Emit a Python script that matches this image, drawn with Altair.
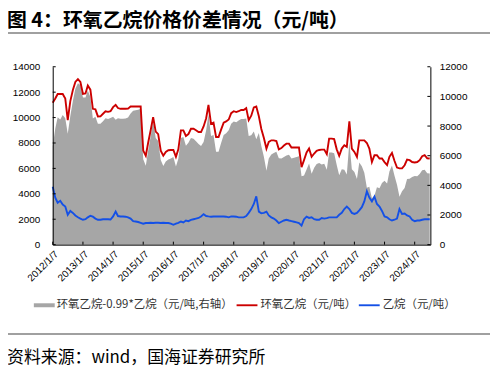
import altair as alt
import pandas as pd

# ---------------- data ----------------
title_text = "图 4：环氧乙烷价格价差情况（元/吨）"
source_text = "资料来源：wind，国海证券研究所"
legend_labels = ["环氧乙烷-0.99*乙烷（元/吨,右轴）", "环氧乙烷（元/吨）", "乙烷（元/吨）"]

tick_years = list(range(2012, 2025))
left_ticks = list(range(0, 14001, 2000))
right_ticks = list(range(0, 12001, 2000))

# monthly observations, 2012/1/7 .. 2024/7/7
dates = pd.date_range("2012-01-07", periods=151, freq=pd.DateOffset(months=1)).strftime("%Y-%m-%dT00:00:00").tolist()

eo = [
    11160, 11500, 11860, 11860, 11860, 11500, 9800, 11300, 12170, 12800, 13030, 12800,   # 2012
    11860, 11900, 12520, 12200, 10690, 10650, 10090, 10100, 10300, 10500, 10450, 10500,  # 2013
    10820, 11000, 10750, 10690, 10690, 10690, 10700, 10870, 10870, 10870, 10870, 10870,  # 2014
    7400, 7000, 8000, 9000, 10040, 8900, 8700, 7400, 7000, 7300, 7430, 7450,             # 2015
    7450, 6910, 7500, 8990, 8990, 8550, 8700, 9120, 9120, 9000, 8860, 8860,              # 2016
    9300, 9950, 11000, 9510, 9600, 8470, 8470, 9050, 9600, 9700, 9850, 10350,            # 2017
    10500, 10430, 10500, 10600, 10600, 10740, 9800, 10150, 10800, 10870, 10100, 9100,    # 2018
    8400, 7560, 8080, 8210, 8210, 8150, 7500, 7600, 7800, 7950, 7950, 7640,              # 2019
    7640, 7640, 7640, 6100, 6650, 7250, 7560, 6910, 7170, 7380, 7450, 7480,              # 2020
    7480, 7120, 8340, 8340, 8300, 7500, 7000, 7560, 7820, 7700, 9700, 7560,              # 2021
    7300, 6900, 8210, 8210, 8210, 8000, 7560, 6500, 7040, 7040, 6780, 6780,              # 2022
    6500, 6260, 6910, 7220, 6600, 6070, 6000, 6000, 6250, 6700, 6650, 6500,              # 2023
    6470, 6500, 6650, 6960, 7040, 6800, 6780,                                            # 2024
]

ethane = [
    4560, 3700, 3300, 3450, 3150, 3000, 2350, 2650, 2500, 2300, 2160, 2050,   # 2012
    1960, 2000, 2150, 2270, 2200, 2050, 1960, 1960, 2000, 2000, 2000, 1980,   # 2013
    2220, 2600, 2250, 2220, 2220, 2200, 2150, 2050, 1850, 1820, 1780, 1720,   # 2014
    1650, 1700, 1700, 1720, 1700, 1720, 1720, 1700, 1720, 1700, 1700, 1650,   # 2015
    1560, 1650, 1720, 1820, 1750, 1900, 1850, 1950, 2000, 2050, 2100, 2220,   # 2016
    2400, 2250, 2220, 2200, 2220, 2220, 2220, 2220, 2220, 2200, 2150, 2220,   # 2017
    2220, 2200, 2150, 2150, 2150, 2250, 2500, 2800, 3200, 3800, 2600, 2470,   # 2018
    2500, 2600, 2300, 2150, 2050, 1900, 1690, 1800, 1900, 1960, 1900, 1850,   # 2019
    1800, 1750, 1690, 1500, 2000, 2200, 2100, 2150, 2000, 1960, 1960, 2090,   # 2020
    2050, 2090, 2150, 2150, 2150, 2150, 2350, 2500, 2800, 3000, 2800, 2500,   # 2021
    2420, 2500, 2700, 2950, 3400, 4200, 3700, 3400, 3780, 3200, 3000, 2650,   # 2022
    2220, 2150, 2000, 1900, 1960, 2050, 2800, 2420, 2450, 2300, 2220, 1950,   # 2023
    1850, 1900, 1900, 1960, 2000, 2000, 2000,                                 # 2024
]

series_colors = ["#A6A6A6", "#CC0000", "#1450E6"]

# ---------------- layout / style ----------------
W, H = 380, 179
FONT_CJK = "Noto Sans CJK SC"
FONT_NUM = "Liberation Sans"

df = pd.DataFrame({"date": dates, "eo": eo, "eth": ethane})
df_years = pd.DataFrame({"date": [f"{y}-01-07T00:00:00" for y in tick_years]})
df_left = pd.DataFrame({"v": left_ticks})
df_right = pd.DataFrame({"v": right_ticks})

x_scale = alt.Scale(domain=[alt.DateTime(year=2012, month=1, date=7),
                            alt.DateTime(year=2024, month=7, date=15)])
left_scale = alt.Scale(domain=[0, 14000], nice=False)
right_scale = alt.Scale(domain=[0, 12000], nice=False)

x_axis = alt.Axis(values=[alt.DateTime(year=y, month=1, date=7) for y in tick_years],
                  format="%Y/%-m/%-d", labelAngle=-45, labelFont=FONT_NUM, labelFontSize=10,
                  labelColor="#000", domainColor="#000", domainWidth=1, ticks=False, tickSize=0,
                  labelPadding=4, grid=False, zindex=1, labelOverlap=False, labelBound=False)
left_axis = alt.Axis(orient="left", values=left_ticks, format="d", labelFont=FONT_NUM, labelFontSize=10,
                     labelColor="#000", domainColor="#000", domainWidth=1, ticks=False,
                     tickSize=0, labelPadding=13, grid=False, zindex=1)
right_axis = alt.Axis(orient="right", values=right_ticks, format="d", labelFont=FONT_NUM, labelFontSize=10,
                      labelColor="#000", domainColor="#000", domainWidth=1, ticks=False,
                      tickSize=0, labelPadding=9, grid=False, zindex=1)

x_enc = alt.X("date:T", scale=x_scale, title=None, axis=x_axis)

base = alt.Chart(df)

area = base.transform_calculate(spread="datum.eo - 0.99 * datum.eth").mark_area(
    color=series_colors[0], opacity=1
).encode(
    x=x_enc,
    y=alt.Y("spread:Q", scale=right_scale, title=None, axis=right_axis),
)

right_tick_marks = alt.Chart(df_right).mark_rule(color="#000", strokeWidth=1).encode(
    y=alt.Y("v:Q", scale=right_scale, title=None, axis=right_axis),
    x=alt.value(W), x2=alt.value(W - 3)
)

area_layer = alt.layer(area, right_tick_marks)

red = base.mark_line(color=series_colors[1], strokeWidth=1.9).encode(
    x=x_enc,
    y=alt.Y("eo:Q", scale=left_scale, title=None, axis=left_axis),
)
blue = base.mark_line(color=series_colors[2], strokeWidth=1.9).encode(
    x=x_enc,
    y=alt.Y("eth:Q", scale=left_scale, title=None, axis=left_axis),
)
left_tick_marks = alt.Chart(df_left).mark_rule(color="#000", strokeWidth=1).encode(
    y=alt.Y("v:Q", scale=left_scale, title=None, axis=left_axis),
    x=alt.value(0), x2=alt.value(3)
)
bottom_tick_marks = alt.Chart(df_years).mark_rule(color="#000", strokeWidth=1).encode(
    x=x_enc, y=alt.value(H), y2=alt.value(H - 3)
)

lines_layer = alt.layer(red, blue, left_tick_marks, bottom_tick_marks)

# ---------------- decorations ----------------
title = alt.Chart(pd.DataFrame({"t": [title_text]})).mark_text(
    align="left", baseline="middle", font=FONT_CJK, fontSize=20, fontWeight="bold", color="#000"
).encode(text="t:N", x=alt.value(-46), y=alt.value(-46.5))

top_rule = alt.Chart(pd.DataFrame({"a": [0]})).mark_rule(color="#808080", strokeWidth=1.5).encode(
    x=alt.value(-48), x2=alt.value(440), y=alt.value(-34)
)
bottom_rule = alt.Chart(pd.DataFrame({"a": [0]})).mark_rule(color="#808080", strokeWidth=1.5).encode(
    x=alt.value(-48), x2=alt.value(440), y=alt.value(269)
)
source = alt.Chart(pd.DataFrame({"t": [source_text]})).mark_text(
    align="left", baseline="middle", font=FONT_CJK, fontSize=17, color="#000"
).encode(text="t:N", x=alt.value(-46), y=alt.value(293))

LEG_Y = 240
leg_gray = alt.Chart(pd.DataFrame({"a": [0]})).mark_rule(color=series_colors[0], strokeWidth=4).encode(
    x=alt.value(-19), x2=alt.value(2), y=alt.value(LEG_Y)
)
leg_red = alt.Chart(pd.DataFrame({"a": [0]})).mark_rule(color=series_colors[1], strokeWidth=1.9).encode(
    x=alt.value(185), x2=alt.value(206), y=alt.value(LEG_Y)
)
leg_blue = alt.Chart(pd.DataFrame({"a": [0]})).mark_rule(color=series_colors[2], strokeWidth=1.9).encode(
    x=alt.value(308), x2=alt.value(329), y=alt.value(LEG_Y)
)
leg_texts = []
for lbl, xpos in zip(legend_labels, [4, 209, 332]):
    leg_texts.append(
        alt.Chart(pd.DataFrame({"t": [lbl]})).mark_text(
            align="left", baseline="middle", font=FONT_CJK, fontSize=11.5, color="#333"
        ).encode(text="t:N", x=alt.value(xpos), y=alt.value(LEG_Y))
    )

chart = alt.layer(
    area_layer, lines_layer, title, top_rule, bottom_rule, source,
    leg_gray, leg_red, leg_blue, *leg_texts
).resolve_scale(y="independent").properties(
    width=W, height=H,
    autosize=alt.AutoSizeParams(type="none"),
    padding={"left": 45, "top": 58, "right": 60, "bottom": 122},
    background="white",
).configure_view(stroke=None)

chart.save("out.html", embed_options={"renderer": "svg", "actions": False})
